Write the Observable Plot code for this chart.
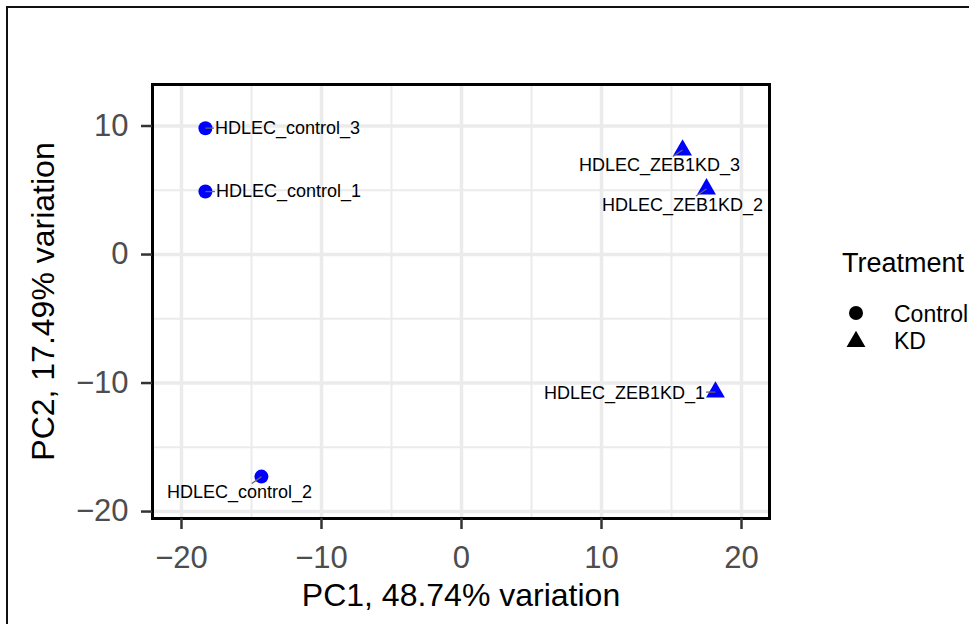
<!DOCTYPE html>
<html><head><meta charset="utf-8">
<script src="https://cdn.jsdelivr.net/npm/d3@7"></script>
<script src="https://cdn.jsdelivr.net/npm/@observablehq/plot@0.6"></script>
<style>
body{margin:0;background:#fff;}
#wrap{position:relative;width:974px;height:624px;overflow:hidden;background:#fff;font-family:"Liberation Sans",Arial,Helvetica,sans-serif;}
#wrap > svg{position:absolute;left:0;top:0;}
#outer{position:absolute;left:6px;top:6px;width:961px;height:700px;border-top:2.5px solid #111;border-left:2.5px solid #111;pointer-events:none;}
</style></head><body><div id="wrap"></div>
<script>
// ---- data ----
const samples = ["HDLEC_control_1","HDLEC_control_2","HDLEC_control_3","HDLEC_ZEB1KD_1","HDLEC_ZEB1KD_2","HDLEC_ZEB1KD_3"];
const treatment = ["Control","Control","Control","KD","KD","KD"];
const pc1 = [-18.29, -14.29, -18.29, 18.14, 17.5, 15.79];
const pc2 = [4.9, -17.28, 9.83, -10.7, 5.1, 8.13];
// repelled label centres (as placed in the reference)
const labelPc1 = [-12.36, -15.86, -12.43, 11.64, 15.79, 14.14];
const labelPc2 = [4.9, -18.52, 9.84, -10.78, 3.85, 6.93];
const xTicks = [-20, -10, 0, 10, 20];
const yTicks = [-20, -10, 0, 10];
const xMinor = [-15, -5, 5, 15];
const yMinor = [-15, -5, 5];
const xTitle = "PC1, 48.74% variation";
const yTitle = "PC2, 17.49% variation";
const legendTitle = "Treatment";
const legendKeys = ["Control", "KD"];
const legendShapes = ["circle", "triangle"];

// ---- layout ----
const W = 974, H = 624, mL = 152, mT = 84, mR = 205, mB = 106;
const xDomain = [-22.07, 22.0], yDomain = [-20.54, 13.23];
const kx = (W - mL - mR) / (xDomain[1] - xDomain[0]);
const ky = (H - mT - mB) / (yDomain[1] - yDomain[0]);
const labelFont = 18;
const FONT = '"Liberation Sans", Arial, Helvetica, sans-serif';

const ctx = document.createElement("canvas").getContext("2d");
ctx.font = `${labelFont}px ${FONT}`;

const rows = samples.map((s, i) => {
  const x0 = pc1[i], y0 = pc2[i], cx = labelPc1[i], cy = labelPc2[i];
  const hw = (ctx.measureText(s).width / 2 + 1) / kx, hh = 9 / ky;
  const dx = cx - x0, dy = cy - y0;
  const ts = [];
  if (dx !== 0) ts.push(((dx > 0 ? cx - hw : cx + hw) - x0) / dx);
  if (dy !== 0) ts.push(((dy > 0 ? cy - hh : cy + hh) - y0) / dy);
  const t = Math.max(0, ...ts);
  return {sample: s, treatment: treatment[i], pc1: x0, pc2: y0, lx: cx, ly: cy,
          sx: x0 + t * dx, sy: y0 + t * dy};
});

const chart = Plot.plot({
  width: W, height: H,
  marginLeft: mL, marginTop: mT, marginRight: mR, marginBottom: mB,
  style: {fontFamily: FONT, background: "transparent", overflow: "visible"},
  x: {domain: xDomain, label: null},
  y: {domain: yDomain, label: null},
  symbol: {domain: legendKeys, range: legendShapes},
  marks: [
    Plot.ruleX(xMinor, {stroke: "#ebebeb", strokeWidth: 2}),
    Plot.ruleY(yMinor, {stroke: "#ebebeb", strokeWidth: 2}),
    Plot.ruleX(xTicks, {stroke: "#ebebeb", strokeWidth: 3.5}),
    Plot.ruleY(yTicks, {stroke: "#ebebeb", strokeWidth: 3.5}),
    Plot.frame({stroke: "black", strokeWidth: 3}),
    Plot.axisX({ticks: xTicks, tickSize: 11, tickPadding: 16, fontSize: 31, stroke: "#333", strokeWidth: 2.5, fill: "#4d4d4d", label: null}),
    Plot.axisY({ticks: yTicks, tickSize: 11, tickPadding: 13, fontSize: 31, stroke: "#333", strokeWidth: 2.5, fill: "#4d4d4d", label: null}),
    Plot.dot(rows, {x: "pc1", y: "pc2", symbol: "treatment", fill: "#0000ff", r: 7}),
    Plot.link(rows, {x1: "pc1", y1: "pc2", x2: "sx", y2: "sy", stroke: "#666", strokeWidth: 1.3}),
    Plot.text(rows, {x: "lx", y: "ly", text: "sample", fontSize: labelFont, fill: "black"}),
    Plot.text([xTitle], {text: d => d, frameAnchor: "bottom", textAnchor: "middle", lineAnchor: "middle", dy: 77, fontSize: 32, fill: "black"}),
    Plot.text([yTitle], {text: d => d, frameAnchor: "left", textAnchor: "middle", lineAnchor: "middle", dx: -109, rotate: -90, fontSize: 32, fill: "black"})
  ]
});
const wrap = document.getElementById("wrap");
wrap.appendChild(chart);

const outer = document.createElement("div");
outer.id = "outer";
wrap.appendChild(outer);

// legend
const lg = d3.select(wrap).append("svg").attr("width", W).attr("height", H)
  .style("font-family", FONT);
lg.append("text").attr("x", 842).attr("y", 272).attr("font-size", 27).attr("fill", "black").text(legendTitle);
legendKeys.forEach((k, i) => {
  const sym = legendShapes[i] === "circle" ? d3.symbolCircle : d3.symbolTriangle;
  lg.append("path").attr("transform", `translate(856,${313 + i * 28.6})`)
    .attr("d", d3.symbol(sym, Math.PI * 49)()).attr("fill", "black");
  lg.append("text").attr("x", 894).attr("y", 322 + i * 27).attr("font-size", 23).attr("fill", "black").text(k);
});
</script></body></html>
